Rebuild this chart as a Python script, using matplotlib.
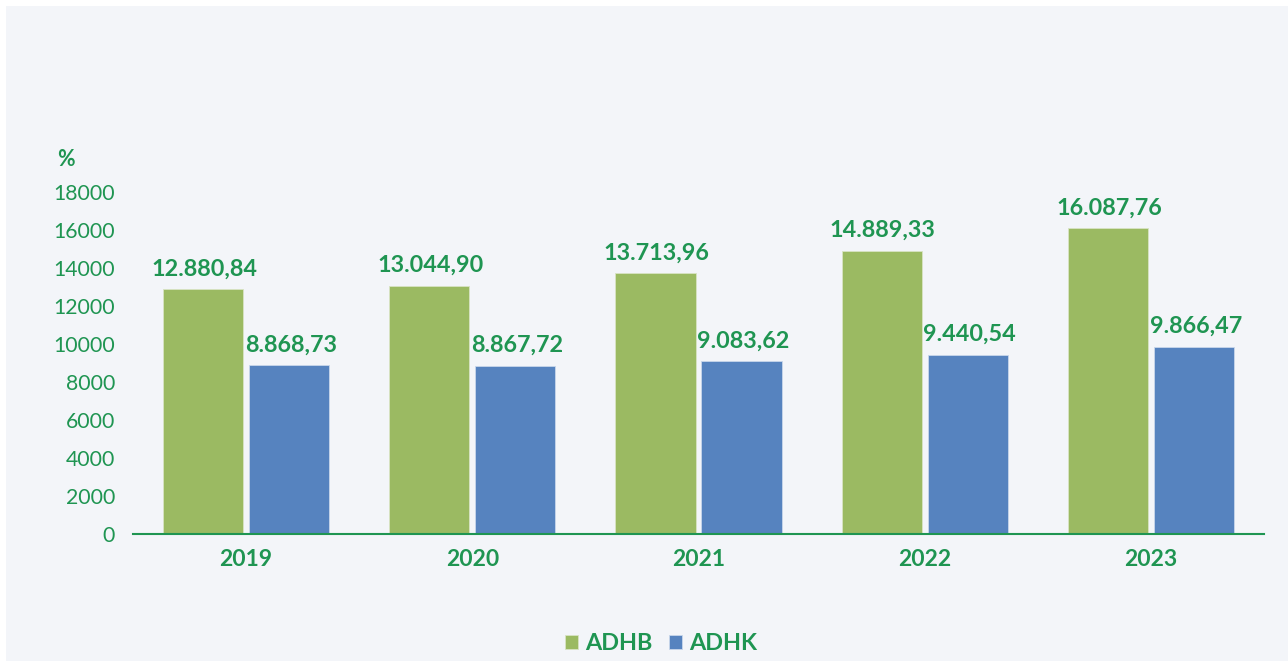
import matplotlib.pyplot as plt
from matplotlib.patches import Rectangle
import numpy as np

plt.rcParams['font.family'] = ['Lato', 'DejaVu Sans']

# Data
years = ["2019", "2020", "2021", "2022", "2023"]
adhb = [12880.84, 13044.90, 13713.96, 14889.33, 16087.76]
adhk = [8868.73, 8867.72, 9083.62, 9440.54, 9866.47]
adhb_labels = ["12.880,84", "13.044,90", "13.713,96", "14.889,33", "16.087,76"]
adhk_labels = ["8.868,73", "8.867,72", "9.083,62", "9.440,54", "9.866,47"]
y_ticks = [0, 2000, 4000, 6000, 8000, 10000, 12000, 14000, 16000, 18000]

# Style
text_green = "#1F9552"
green_bar = "#9BBA62"
blue_bar = "#5683BF"
bg_color = "#F3F5F9"

fig = plt.figure(figsize=(12.88, 6.61), dpi=100)
fig.patch.set_facecolor("white")
fig.add_artist(Rectangle((6 / 1288, 0), 1, 1 - 6 / 661, transform=fig.transFigure,
                         facecolor=bg_color, edgecolor="none", zorder=-10))

ax = fig.add_axes([133 / 1288, 1 - 534 / 661, 1131 / 1288, 342 / 661])
ax.set_facecolor("none")

x = np.arange(len(years))
width = 0.354
offset = 0.19

bars1 = ax.bar(x - offset, adhb, width, color=green_bar, edgecolor="#D8E4C4", linewidth=0.6, label="ADHB")
bars2 = ax.bar(x + offset, adhk, width, color=blue_bar, edgecolor="#C9D7EB", linewidth=0.6, label="ADHK")

for b, t in zip(bars1, adhb_labels):
    ax.text(b.get_x() + b.get_width() / 2 + 0.005, b.get_height() + 1080, t, ha="center", va="center",
            fontsize=16.8, fontweight="bold", color=text_green, clip_on=False)
for b, t in zip(bars2, adhk_labels):
    ax.text(b.get_x() + b.get_width() / 2 + 0.008, b.get_height() + 1080, t, ha="center", va="center",
            fontsize=16.8, fontweight="bold", color=text_green, clip_on=False)

ax.set_xlim(-0.5, len(years) - 0.5)
ax.set_ylim(0, 18000)
ax.set_yticks(y_ticks)
ax.set_yticklabels([str(v) for v in y_ticks], fontsize=15.3, color=text_green)
ax.set_xticks(x)
ax.set_xticklabels(years, fontsize=16.5, fontweight="bold", color=text_green)
ax.tick_params(axis="both", length=0)
ax.tick_params(axis="y", pad=13)
ax.tick_params(axis="x", pad=11)

for s in ["top", "right", "left"]:
    ax.spines[s].set_visible(False)
ax.spines["bottom"].set_color(text_green)
ax.spines["bottom"].set_linewidth(1.5)

ax.text(-0.0593, 1.0936, "%", transform=ax.transAxes, fontsize=15.5, fontweight="bold",
        color=text_green, ha="center", va="center")

leg = fig.legend(handles=[bars1, bars2], labels=["ADHB", "ADHK"], loc="center",
                 bbox_to_anchor=(661 / 1288, 1 - 644 / 661), ncol=2, frameon=False,
                 handlelength=0.55, handleheight=0.55, handletextpad=0.3, columnspacing=0.7,
                 prop={"size": 16.8, "weight": "bold"})
for t in leg.get_texts():
    t.set_color(text_green)

fig.savefig("out.png", dpi=100, facecolor=fig.get_facecolor())
